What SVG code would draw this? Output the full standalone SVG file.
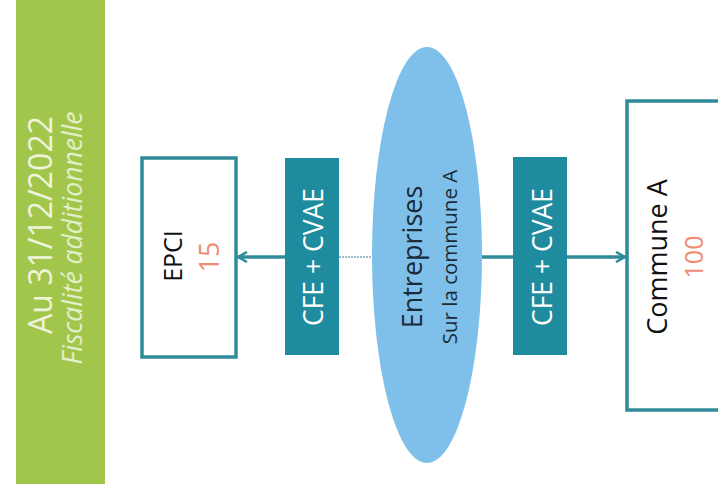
<svg xmlns="http://www.w3.org/2000/svg" width="718" height="494" viewBox="0 0 718 494">
<defs>
<style>
.box{fill:#ffffff;stroke:#2f8b98;stroke-width:3.5}
.tag{fill:#1e8c9e}
.t{font-family:"Open Sans","Liberation Sans",sans-serif;text-anchor:middle}
.conn{stroke:#2f8b98;stroke-width:3.5;fill:none}
</style>
<marker id="ah" viewBox="0 0 12 12" refX="10" refY="6" markerWidth="12" markerHeight="12" markerUnits="userSpaceOnUse" orient="auto">
<path d="M1,1 L10,6 L1,11" fill="none" stroke="#2f8b98" stroke-width="2.5"/>
</marker>
</defs>
<rect width="718" height="494" fill="#ffffff"/>
<g id="header">
<rect x="16" y="0" width="89" height="484" fill="#a2c64c"/>
<text class="t" transform="translate(52,225) rotate(-90)" font-size="32" fill="#eef4dc">Au 31/12/2022</text>
<text class="t" transform="translate(82,238) rotate(-90)" font-size="26.5" font-style="italic" fill="#e4eec8">Fiscalité additionnelle</text>
</g>
<g id="connectors">
<line class="conn" x1="285" y1="257" x2="238" y2="257" marker-end="url(#ah)"/>
<line x1="339" y1="257" x2="373" y2="257" stroke="#7fa8b8" stroke-width="1.5" stroke-dasharray="2,1"/>
<line class="conn" x1="482" y1="257" x2="625" y2="257" marker-end="url(#ah)"/>
</g>
<g id="epci">
<rect class="box" x="142" y="158" width="94" height="199"/>
<text class="t" transform="translate(182,256) rotate(-90)" font-size="25" fill="#111">EPCI</text>
<text class="t" transform="translate(219,257) rotate(-90)" font-size="27" fill="#f08b74">15</text>
</g>
<g id="tag1">
<rect class="tag" x="285" y="158" width="54" height="197"/>
<text class="t" transform="translate(323,257) rotate(-90)" font-size="26.5" fill="#ffffff">CFE + CVAE</text>
</g>
<g id="entreprises">
<ellipse cx="427" cy="255" rx="55" ry="208" fill="#7fc0ea"/>
<text class="t" transform="translate(422,257) rotate(-90)" font-size="27" fill="#1c2a38">Entreprises</text>
<text class="t" transform="translate(457,257) rotate(-90)" font-size="20.5" fill="#1c2a38">Sur la commune A</text>
</g>
<g id="tag2">
<rect class="tag" x="513" y="157" width="54" height="198"/>
<text class="t" transform="translate(552,257) rotate(-90)" font-size="26.5" fill="#ffffff">CFE + CVAE</text>
</g>
<g id="communeA">
<rect class="box" x="627" y="101" width="100" height="309"/>
<text class="t" transform="translate(667,257) rotate(-90)" font-size="27" fill="#111">Commune A</text>
<text class="t" transform="translate(703,257) rotate(-90)" font-size="25" fill="#f08b74">100</text>
</g>
</svg>
